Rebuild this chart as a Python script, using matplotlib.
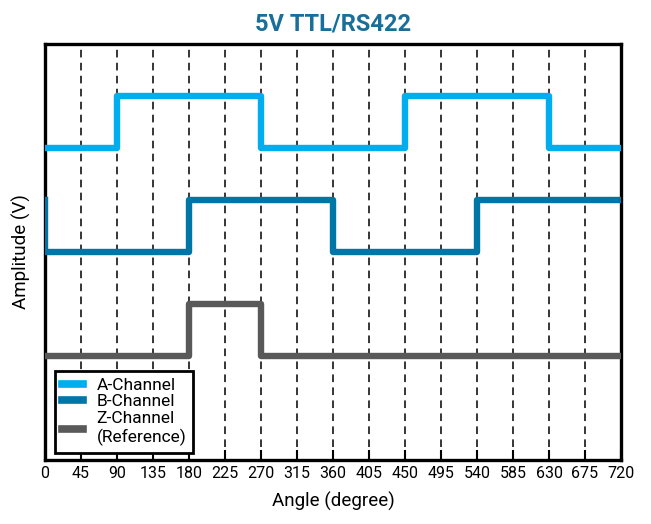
import matplotlib.pyplot as plt
import numpy as np

# signal levels (arbitrary units, stacked) at transition angles
a_angles = [0, 90, 270, 450, 630, 720]
a_levels = [6, 7, 6, 7, 6, 6]
b_angles = [0, 0, 180, 360, 540, 720]
b_levels = [5, 4, 5, 4, 5, 5]
z_angles = [0, 180, 270, 720]
z_levels = [2, 3, 2, 2]
x_ticks = np.arange(0, 721, 45)

plt.rcParams["font.family"] = ["Roboto", "DejaVu Sans"]

fig = plt.figure(figsize=(6.51, 5.24), dpi=100)
ax = fig.add_axes([0.069, 0.122, 0.885, 0.794])

for xv in x_ticks[1:-1]:
    ax.axvline(xv, color="black", lw=1.1, ls=(0, (5, 3.5)), zorder=1)

lw = 4.6
ax.step(a_angles, a_levels, where="post", color="#00AEEF", lw=lw,
        solid_joinstyle="round", label="A-Channel", zorder=3)
ax.step(b_angles, b_levels, where="post", color="#0076A8", lw=lw,
        solid_joinstyle="round", label="B-Channel", zorder=3)
ax.step(z_angles, z_levels, where="post", color="#595959", lw=lw,
        solid_joinstyle="round", label="Z-Channel\n(Reference)", zorder=3)

ax.set_xlim(0, 720)
ax.set_ylim(0, 8)
ax.set_xticks(x_ticks)
ax.set_yticks([])
ax.tick_params(axis="x", direction="in", length=7, width=1.5,
               labelsize=11.5, pad=4)
for sp in ax.spines.values():
    sp.set_linewidth(2.4)

ax.set_xlabel("Angle (degree)", fontsize=13.5, labelpad=8)
ax.set_ylabel("Amplitude (V)", fontsize=13.5, labelpad=10)
ax.set_title("5V TTL/RS422", fontsize=17, fontweight="bold",
             color="#1A6E9A", pad=10)

leg = ax.legend(loc="lower left", bbox_to_anchor=(0.005, 0.0), fontsize=12.5,
                handlelength=1.2, handletextpad=0.8, borderpad=0.4,
                labelspacing=0.1, borderaxespad=0.4, fancybox=False,
                framealpha=1, edgecolor="black")
leg.get_frame().set_linewidth(2)
for h in leg.legend_handles:
    h.set_linewidth(5.5)

fig.savefig("out.png", dpi=100)
